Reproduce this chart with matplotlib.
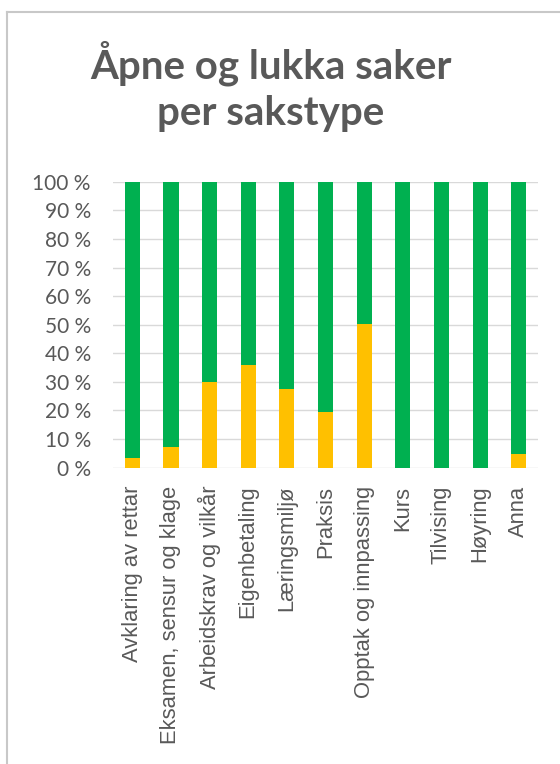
import matplotlib.pyplot as plt
from matplotlib.lines import Line2D

categories = ["Avklaring av rettar", "Eksamen, sensur og klage", "Arbeidskrav og vilkår",
              "Eigenbetaling", "Læringsmiljø", "Praksis", "Opptak og innpassing",
              "Kurs", "Tilvising", "Høyring", "Anna"]
open_pct = [3.3, 7.2, 30.0, 36.0, 27.5, 19.6, 50.3, 0.0, 0.0, 0.0, 4.7]
closed_pct = [100 - v for v in open_pct]
y_ticks = [0, 10, 20, 30, 40, 50, 60, 70, 80, 90, 100]
y_tick_labels = [f"{t} %" for t in y_ticks]

c_open = "#FFC000"
c_closed = "#00B050"
grey = "#595959"


def main():
    plt.rcParams["font.family"] = ["Lato", "DejaVu Sans"]
    fig = plt.figure(figsize=(5.6, 7.64), dpi=100)
    ax = fig.add_axes([0.2018, 0.388, 0.759, 0.374])

    x = range(len(categories))
    ax.bar(x, open_pct, width=0.39, color=c_open, zorder=2)
    ax.bar(x, closed_pct, bottom=open_pct, width=0.39, color=c_closed, zorder=2)

    ax.set_xlim(-0.5, len(categories) - 0.5)
    ax.set_ylim(0, 100)
    ax.set_yticks(y_ticks)
    ax.set_yticklabels(y_tick_labels)
    ax.set_xticks(list(x))
    ax.set_xticklabels(categories, rotation=90, ha="center", va="top",
                       family=["Liberation Sans", "DejaVu Sans"])
    ax.tick_params(axis="y", length=0, pad=16, labelsize=15, labelcolor=grey)
    ax.tick_params(axis="x", length=0, pad=13, labelsize=15.8, labelcolor=grey)
    ax.grid(axis="y", color="#D9D9D9", lw=1, zorder=0)
    for s in ax.spines.values():
        s.set_visible(False)

    fig.text(0.484, 0.947, "Åpne og lukka saker\nper sakstype", ha="center", va="top",
             fontsize=29, fontweight="bold", color=grey, linespacing=1.3)

    # chart frame edges visible in the screenshot
    fig.add_artist(Line2D([0.012, 1.0], [0.984, 0.984], color="#C8C8C8", lw=1.5))
    fig.add_artist(Line2D([0.012, 0.012], [0.0, 0.984], color="#C8C8C8", lw=1.5))

    fig.savefig("out.png", dpi=100)


if __name__ == "__main__":
    main()
